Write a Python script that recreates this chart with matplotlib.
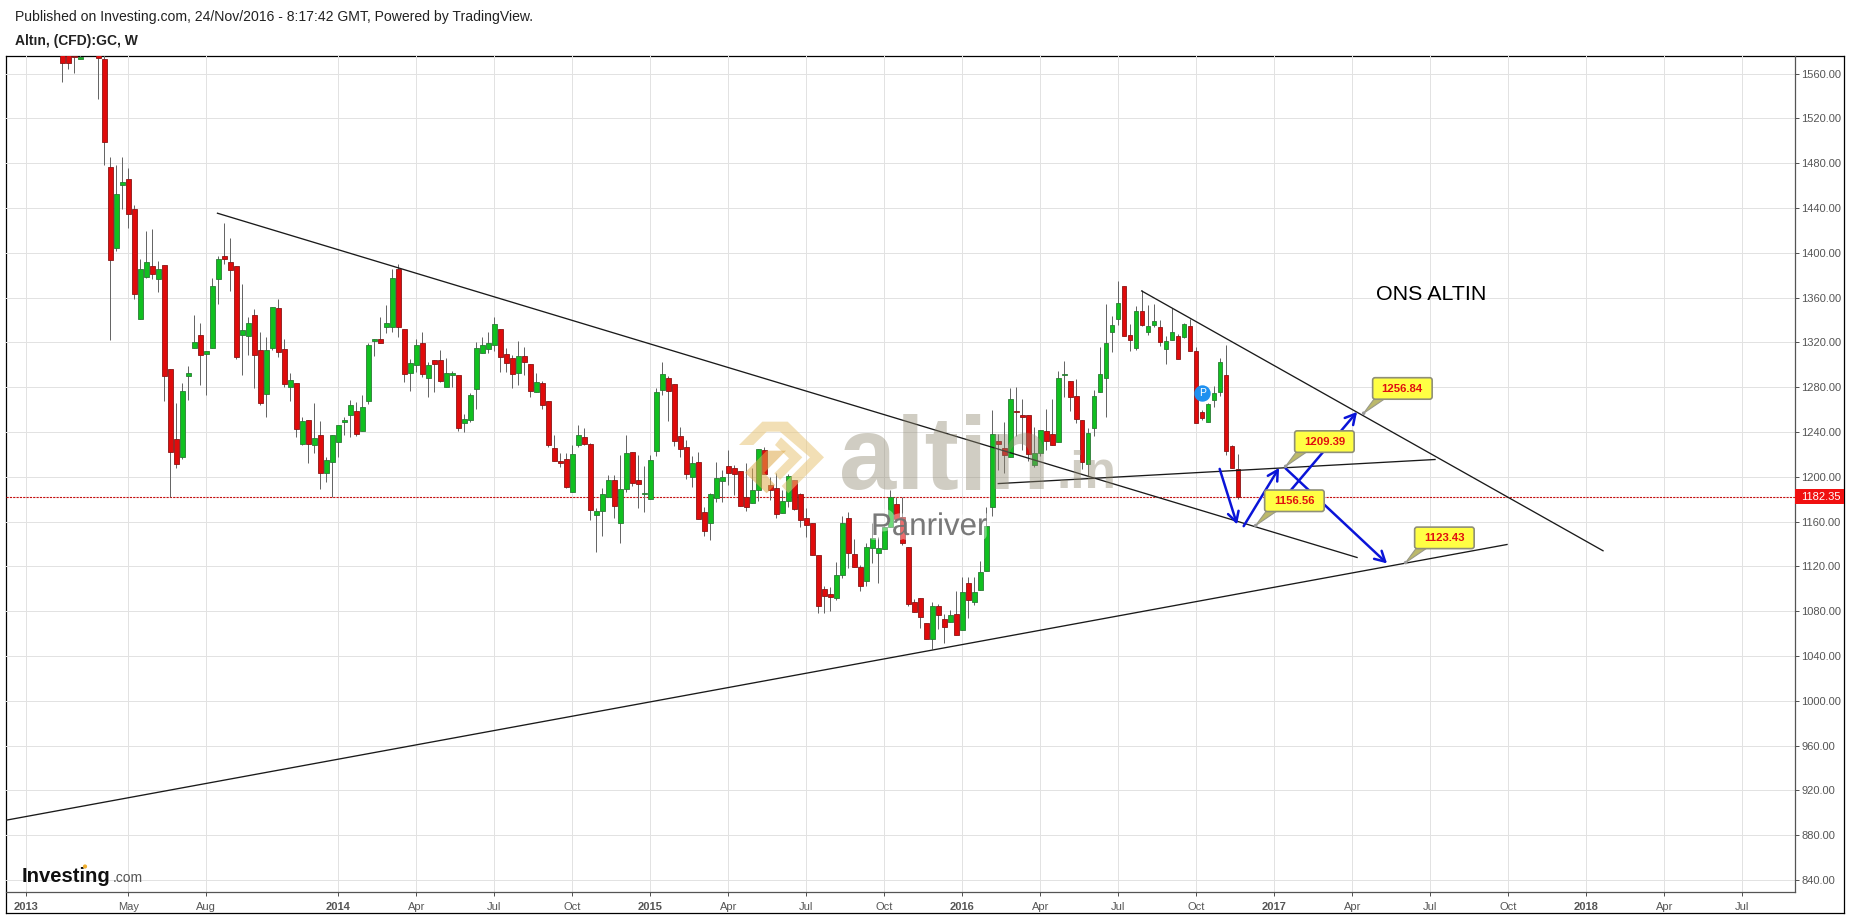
import matplotlib
matplotlib.use('Agg')
import matplotlib.pyplot as plt
import matplotlib.patheffects as pe
from matplotlib.patches import FancyBboxPatch, Polygon, Rectangle, Circle
from matplotlib.transforms import Affine2D, IdentityTransform

plt.rcParams['font.family'] = ['Liberation Sans', 'DejaVu Sans']

# weekly candles, index 0 = first week of 2013
first_week = 6
opens = [
    1580, 1580, 1576, 1573, 1590, 1585, 1580, 1573.5, 1476.3, 1404.6,
    1460.8, 1466.4, 1439, 1341.2, 1378.7, 1387.9, 1376.9, 1388.8, 1296, 1233.8,
    1218, 1290.3, 1315.3, 1326.3, 1310, 1315.3, 1376.9, 1397.1, 1391.5, 1387.9,
    1326.9, 1325.4, 1344.1, 1312.9, 1274.2, 1315, 1350.4, 1313.8, 1280.5, 1283.5,
    1229.6, 1250.4, 1228.7, 1237, 1203.7, 1213.5, 1231.4, 1249.2, 1255.5, 1258.5,
    1241.2, 1267.9, 1321.5, 1322.7, 1334, 1334, 1385.2, 1331.6, 1293, 1300.1,
    1319.2, 1288.5, 1304, 1304, 1280.5, 1291.2, 1290.6, 1248.3, 1250.7, 1278.7,
    1310.8, 1313.8, 1318, 1331.6, 1309.3, 1305.8, 1293, 1307.6, 1300.4, 1276,
    1283.5, 1267.4, 1225.5, 1214, 1215.6, 1186.8, 1228.7, 1235.9, 1229, 1165.6,
    1169.8, 1182.3, 1196.9, 1159.1, 1189.4, 1221.9, 1196.9, 1185, 1179.9, 1223.4,
    1277.8, 1287.9, 1282.6, 1236.1, 1226.3, 1200.1, 1212.9, 1168.3, 1159.1, 1180.8,
    1196.6, 1209.7, 1207.6, 1205.2, 1182.3, 1176.3, 1188.2, 1223.7, 1192.7, 1189.7,
    1168, 1178.4, 1197.2, 1184.7, 1163, 1158.5, 1130, 1099.9, 1095.1, 1092.1,
    1112.7, 1162.9, 1131.1, 1119.2, 1107.3, 1136.5, 1132.3, 1135.9, 1154.9, 1175.5,
    1164.5, 1137.1, 1088, 1091.6, 1069.2, 1055.5, 1084.4, 1073.4, 1070, 1077.3,
    1063, 1104.9, 1088.6, 1098.7, 1115.6, 1173, 1232, 1225.7, 1217.7, 1259,
    1255.2, 1255.2, 1210.3, 1221, 1240.9, 1238.5, 1231.1, 1290.6, 1285.8, 1272.4,
    1251, 1211.2, 1243.6, 1275.4, 1288.2, 1329, 1340.6, 1370.3, 1326.6, 1314.7,
    1348, 1329, 1335.2, 1333.7, 1313.8, 1321.8, 1325.7, 1324.8, 1334.9, 1312,
    1257.9, 1248.6, 1268.3, 1275.4, 1290.9, 1227.5, 1207,
]
highs = [
    1585, 1585, 1582, 1578, 1595, 1592, 1590, 1578, 1485.2, 1478.3,
    1485.2, 1475.4, 1442.6, 1394.1, 1419.4, 1420.9, 1392.4, 1389, 1296, 1266.2,
    1284, 1298.9, 1344.4, 1337.3, 1312, 1377.2, 1397.1, 1426.3, 1412.9, 1388,
    1372.1, 1342.4, 1349.5, 1329, 1324.5, 1351.5, 1358.7, 1322.7, 1292.4, 1284,
    1253.7, 1251, 1266.2, 1249.8, 1218, 1237, 1246, 1253.7, 1268.6, 1266.8,
    1273, 1319.2, 1322.7, 1342.4, 1353.1, 1385.2, 1390, 1332, 1304.9, 1322.7,
    1329, 1302.8, 1304, 1313.2, 1305.8, 1294.5, 1291, 1256.1, 1274.5, 1320.7,
    1324.5, 1329.6, 1343, 1332, 1314.7, 1308.8, 1321.3, 1316.2, 1300.5, 1292.4,
    1285.3, 1268, 1237.4, 1221, 1221, 1228.4, 1246.3, 1243.3, 1230, 1172.5,
    1189.7, 1201.6, 1201.6, 1219.5, 1237.3, 1222, 1219.5, 1209.7, 1219.5, 1279,
    1302.2, 1290, 1283, 1244.2, 1232.9, 1218.6, 1222.5, 1173.4, 1185.3, 1212.9,
    1206, 1224, 1210.6, 1205.5, 1212, 1207.6, 1224.5, 1226.9, 1200, 1203,
    1188.2, 1202.5, 1197.5, 1185.3, 1171.9, 1158.7, 1130.2, 1102.6, 1102, 1123.7,
    1165.3, 1168.3, 1144.2, 1121.3, 1140.7, 1158.5, 1146.6, 1156, 1188.2, 1182.3,
    1182.3, 1137.3, 1090.6, 1091.8, 1069.4, 1088.6, 1086.5, 1077.6, 1081.2, 1098,
    1110.3, 1110.3, 1110.3, 1125.2, 1173.4, 1260, 1238.5, 1249, 1279.3, 1280.2,
    1269.5, 1255.4, 1244.5, 1241.7, 1260.8, 1269.5, 1294.8, 1303.7, 1285.9, 1287.6,
    1251.2, 1243.6, 1277.8, 1315.9, 1354.6, 1343.9, 1374.5, 1370.5, 1336.7, 1352.8,
    1366.5, 1353.7, 1354.6, 1339.7, 1326, 1350.4, 1327.8, 1337.3, 1341, 1315.9,
    1259.9, 1266, 1281.4, 1306, 1317.7, 1228.4, 1220.4,
]
lows = [
    1552.7, 1564, 1560.8, 1573, 1580, 1578, 1537.5, 1478.6, 1322.4, 1402,
    1439, 1422.1, 1358.4, 1341, 1378, 1376.9, 1365.3, 1268, 1182.3, 1208.2,
    1215.6, 1268.5, 1315, 1282.3, 1273, 1315, 1354.3, 1390, 1366.2, 1304.9,
    1291.2, 1309, 1279.6, 1263.8, 1253.7, 1313.2, 1307.3, 1280.5, 1268, 1235.9,
    1228.4, 1212.6, 1221.6, 1188.8, 1195.7, 1182.3, 1217.4, 1237.3, 1235.3, 1236.4,
    1241, 1265, 1307.9, 1319.8, 1328.7, 1329.6, 1325.1, 1285, 1277, 1293.9,
    1289.4, 1271.6, 1276, 1285, 1280.5, 1280, 1241, 1240.3, 1249.2, 1260.8,
    1310.8, 1310.8, 1312.6, 1293.6, 1293.9, 1279.6, 1282.3, 1290.9, 1271.6, 1276,
    1260.3, 1227, 1214, 1209, 1190.3, 1186.8, 1227, 1228, 1161.5, 1133.2,
    1147.2, 1182.3, 1163, 1141.2, 1186.8, 1191.8, 1171.9, 1169, 1179.9, 1218.6,
    1273, 1250.1, 1227.5, 1218, 1197.8, 1191.2, 1162.7, 1147.5, 1143.6, 1177.8,
    1177.8, 1192.7, 1183.8, 1174.3, 1169.8, 1176.3, 1178.7, 1202.8, 1179.3, 1163.6,
    1168, 1173.4, 1170.4, 1155.5, 1146.6, 1130.5, 1078.8, 1078.8, 1080.2, 1090,
    1109.4, 1118.3, 1119.2, 1098.4, 1102.6, 1122.8, 1105.5, 1135.9, 1154.9, 1162.7,
    1139.2, 1084.7, 1079.6, 1064.8, 1055, 1046, 1064.5, 1051.4, 1070, 1058.5,
    1063, 1073.7, 1085.6, 1098.7, 1115.6, 1164.7, 1206.4, 1203.4, 1217.7, 1236.7,
    1224, 1213.9, 1208.8, 1219, 1224, 1228.1, 1231.1, 1271, 1258.5, 1248,
    1207, 1200.5, 1236.1, 1275.4, 1253.4, 1311.1, 1335.8, 1325.4, 1312, 1313.5,
    1334.3, 1327, 1334, 1316.5, 1301, 1321.8, 1304.9, 1323.7, 1312, 1248,
    1250.4, 1248.6, 1262, 1271.8, 1219.2, 1207.6, 1180.2,
]
closes = [
    1569.7, 1569.7, 1575, 1575, 1585, 1580, 1574, 1499.2, 1393.9, 1452.2,
    1463.2, 1434.9, 1363.5, 1385.2, 1391.5, 1381.3, 1385.8, 1290.3, 1222.5, 1211.8,
    1276.3, 1292.7, 1320.1, 1309, 1312, 1370.3, 1394.1, 1394.4, 1384.6, 1307.3,
    1330.8, 1337, 1308.4, 1266.2, 1312.9, 1351.3, 1311.7, 1283.2, 1286.1, 1243,
    1249.5, 1229.3, 1234.7, 1203.7, 1214.7, 1237, 1246, 1250.7, 1263.8, 1238.5,
    1262, 1317.4, 1322.7, 1319.8, 1337, 1377.2, 1334, 1292, 1301.9, 1317.4,
    1291.8, 1299.5, 1301, 1285.5, 1292.4, 1292.4, 1243.9, 1251.3, 1272.7, 1314.7,
    1317.4, 1319.2, 1336.1, 1307.2, 1301.9, 1292, 1307.6, 1302.8, 1276.9, 1284.3,
    1264.4, 1228.4, 1214.4, 1212.6, 1191.2, 1220.1, 1237, 1229.6, 1170, 1169.2,
    1184.4, 1196.9, 1174.3, 1188.8, 1221, 1194.8, 1193.9, 1185.6, 1214.7, 1275.4,
    1291.5, 1276.9, 1232.3, 1225.1, 1202.8, 1212, 1162.7, 1152, 1184.4, 1198.7,
    1200.1, 1203.7, 1202.2, 1174.3, 1173.4, 1188, 1224.5, 1202.8, 1188.2, 1167.1,
    1178.1, 1200.7, 1171.6, 1161.8, 1156.7, 1130.5, 1084.7, 1093.9, 1093, 1112.1,
    1158.5, 1132.3, 1119.8, 1102.6, 1137.1, 1145.1, 1136.2, 1155.5, 1182.3, 1162.7,
    1140.6, 1086.8, 1079.6, 1075.2, 1055.5, 1084.4, 1076.4, 1065.7, 1076.4, 1059.1,
    1096.9, 1090.4, 1096.9, 1115.4, 1156.4, 1238.2, 1229, 1219.2, 1269.5, 1257.6,
    1253.1, 1220.1, 1221.3, 1241.5, 1231.7, 1228.1, 1288.2, 1292.1, 1271, 1251.3,
    1212.9, 1239.1, 1272.4, 1291.8, 1319.5, 1335.8, 1355.2, 1325.4, 1322.1, 1348,
    1335.2, 1334.6, 1339.1, 1320, 1321.3, 1329.3, 1304.9, 1336.4, 1312, 1248,
    1252.2, 1265, 1274.8, 1302.5, 1222.8, 1207.6, 1182.35,
]

price_ticks = [840, 880, 920, 960, 1000, 1040, 1080, 1120, 1160, 1200, 1240, 1280,
               1320, 1360, 1400, 1440, 1480, 1520, 1560]
date_ticks = [0, 17, 30, 52, 65, 78, 91, 104, 117, 130, 143, 156, 169, 182, 195,
              208, 221, 234, 247, 260, 273, 286]
date_labels = ['2013', 'May', 'Aug', '2014', 'Apr', 'Jul', 'Oct', '2015', 'Apr', 'Jul', 'Oct',
               '2016', 'Apr', 'Jul', 'Oct', '2017', 'Apr', 'Jul', 'Oct', '2018', 'Apr', 'Jul']

last_price = 1182.35

# trend lines: (week, price) -> (week, price)
trend_lines = [
    ((31.85, 1435.4), (221.8, 1128)),
    ((-3.4, 893.4), (246.8, 1139.6)),
    ((185.9, 1366), (262.8, 1134)),
    ((162, 1194), (234.8, 1215.5)),
]
arrows = [
    ((198.9, 1207.1), (201.8, 1157.5)),
    ((202.9, 1156), (208.8, 1208)),
    ((209.9, 1207.5), (226.8, 1122.7)),
    ((208.9, 1176.3), (221.8, 1258)),
]
callout_weeks = [222.9, 209.9, 204.9, 229.9]
callout_prices = [1256.84, 1209.39, 1156.56, 1123.43]

W, H = 1851, 916
fig = plt.figure(figsize=(W / 100, H / 100), dpi=100)
fig.patch.set_facecolor('white')


def px(x, y):
    return (x, H - y)


frame = fig.add_axes([6 / W, (H - 913) / H, 1838 / W, 857 / H])
frame.set_xticks([])
frame.set_yticks([])
for s in frame.spines.values():
    s.set_color('black')
    s.set_linewidth(0.9)

ax = fig.add_axes([6 / W, (H - 892) / H, 1789 / W, 836 / H])
ax.set_facecolor('none')
ax.set_xlim(-3.4, 294.8)
ax.set_ylim(829.3, 1575.8)
ax.spines['top'].set_visible(False)
ax.spines['left'].set_visible(False)
ax.spines['right'].set_color('#555555')
ax.spines['bottom'].set_color('#555555')
ax.spines['right'].set_linewidth(0.9)
ax.spines['bottom'].set_linewidth(0.9)

ax.yaxis.tick_right()
ax.set_yticks(price_ticks)
ax.set_yticklabels(['%.2f' % p for p in price_ticks])
ax.set_xticks(date_ticks)
ax.set_xticklabels(date_labels)
ax.tick_params(axis='y', length=3, width=0.72, color='#555555', labelcolor='#555555', labelsize=8, pad=1.5)
ax.tick_params(axis='x', length=3, width=0.72, color='#555555', labelcolor='#555555', labelsize=8, pad=4.5)
for lab in ax.get_xticklabels():
    if lab.get_text().isdigit():
        lab.set_fontweight('bold')
ax.grid(True, color='#e2e2e2', linewidth=0.72)
ax.set_axisbelow(True)

ax.axhline(last_price, color='#c41010', linewidth=0.8, linestyle=(0, (2, 1)), zorder=2)

# candles
weeks = [first_week + i for i in range(len(opens))]
ax.vlines(weeks, lows, highs, color='#666666', linewidth=0.72, zorder=3)
colors = ['#10c020' if c >= o else '#e00b0b' for o, c in zip(opens, closes)]
edges = ['#2a7a35' if c >= o else '#8a1515' for o, c in zip(opens, closes)]
bottoms = [min(o, c) for o, c in zip(opens, closes)]
heights = [abs(c - o) for o, c in zip(opens, closes)]
ax.bar(weeks, heights, bottom=bottoms, width=0.74, color=colors, edgecolor=edges, linewidth=0.6, zorder=3.5)

for a, b in trend_lines:
    ax.plot([a[0], b[0]], [a[1], b[1]], color='#1a1a1a', linewidth=0.95, zorder=4)

for a, b in arrows:
    ax.annotate('', xy=b, xytext=a, zorder=5,
                arrowprops=dict(arrowstyle='->,head_length=0.6,head_width=0.33', color='#0a14d8',
                                lw=1.8, shrinkA=0, shrinkB=0, mutation_scale=12))

# P marker on the chart
ax.plot([196], [1275], marker='o', markersize=10.8, color='#1e90f0', markeredgecolor='#1e90f0', zorder=5)
ax.text(196, 1275, 'P', color='white', fontsize=7.5, ha='center', va='center', zorder=5.1)

# altin.in watermark
ident = IdentityTransform()
logo_parts = [
    ([(42, 105), (112, 35), (188, 35), (297, 142), (190, 250), (170, 228), (255, 142), (165, 65), (125, 65), (85, 105)],
     '#e8c679', 0.55),
    ([(168, 82), (232, 142), (165, 210), (148, 190), (192, 145), (150, 105)], '#e8c679', 0.55),
    ([(60, 188), (125, 122), (183, 122), (118, 188), (150, 225), (125, 250)], '#dda94a', 0.55),
]
for pts, col, al in logo_parts:
    ax.add_patch(Polygon([px(725 + x / 3, 410 + y / 3) for x, y in pts], closed=True, transform=ident,
                         facecolor=col, edgecolor='none', alpha=al, zorder=6, clip_on=False))
wx, wy = px(839, 488.5)
ax.text(wx, wy, 'altin', transform=ident, fontsize=74, fontweight='bold', color='#8f8870', alpha=0.42,
        ha='left', va='baseline', zorder=6)
wx, wy = px(1056, 488.5)
ax.text(wx, wy, '.in', transform=ident, fontsize=37, fontweight='bold', color='#8f8870', alpha=0.42,
        ha='left', va='baseline', zorder=6)
wx, wy = px(871, 535)
ax.text(wx, wy, 'Panriver', transform=ident, fontsize=22.5, color='#6e6e6e', alpha=0.9,
        ha='left', va='baseline', zorder=6.2,
        path_effects=[pe.withStroke(linewidth=7, foreground='white', alpha=0.4)])

# ONS ALTIN
wx, wy = px(1431.5, 294)
ax.text(wx, wy, 'ONS ALTIN', transform=ident, fontsize=15.4, color='black', ha='center', va='center', zorder=6)

# price callouts
for wk, price in zip(callout_weeks, callout_prices):
    ox, oy = ax.transData.transform((wk, price))
    tr = Affine2D().translate(ox, oy)
    ax.add_patch(Polygon([(0, 0), (11, 15), (22, 15)], closed=True, transform=tr, facecolor='#bcb96a',
                         edgecolor='#999988', linewidth=0.8, zorder=7, clip_on=False))
    ax.add_patch(FancyBboxPatch((11, 16), 55.5, 17.5, boxstyle='round,pad=2,rounding_size=2.5', transform=tr,
                                facecolor='#ffff44', edgecolor='#8f8f78', linewidth=1.2, zorder=7.1, clip_on=False))
    ax.add_patch(Circle((0, 0), 1.8, transform=tr, facecolor='#999999', edgecolor='none', zorder=7.2, clip_on=False))
    ax.text(38.7, 24.7, '%.2f' % price, transform=tr, fontsize=8.2, fontweight='bold', color='#e01010',
            ha='center', va='center', zorder=7.3)

# last price tag
ty = ax.get_yaxis_transform()
ax.add_patch(Rectangle((1, last_price - 6.9), 49 / 1789, 13.8, transform=ty, facecolor='#f01010',
                       edgecolor='none', zorder=8, clip_on=False))
ax.text(1 + 5.7 / 1789, last_price, '%.2f' % last_price, transform=ty, fontsize=8, color='white',
        ha='left', va='center', zorder=9)

# Investing logo
wx, wy = px(22, 881.5)
ax.text(wx, wy, 'Investing', transform=ident, fontsize=14.6, fontweight='bold', color='#111111',
        ha='left', va='baseline', zorder=6)
wx, wy = px(113, 881.5)
ax.text(wx, wy, '.com', transform=ident, fontsize=10, color='#555555', ha='left', va='baseline', zorder=6)
ax.add_patch(Circle(px(85, 866.5), 2.1, transform=ident, facecolor='#f0b030', edgecolor='none', zorder=6.1))

# header
fig.text(15 / W, 1 - 17.5 / H, 'Published on Investing.com, 24/Nov/2016 - 8:17:42 GMT, Powered by TradingView.',
         fontsize=10.1, color='#222222', ha='left', va='center')
fig.text(15 / W, 1 - 40.5 / H, 'Altın, (CFD):GC, W', fontsize=10, fontweight='bold', color='#222222',
         ha='left', va='center')

plt.savefig('out.png', dpi=100)
plt.close('all')
